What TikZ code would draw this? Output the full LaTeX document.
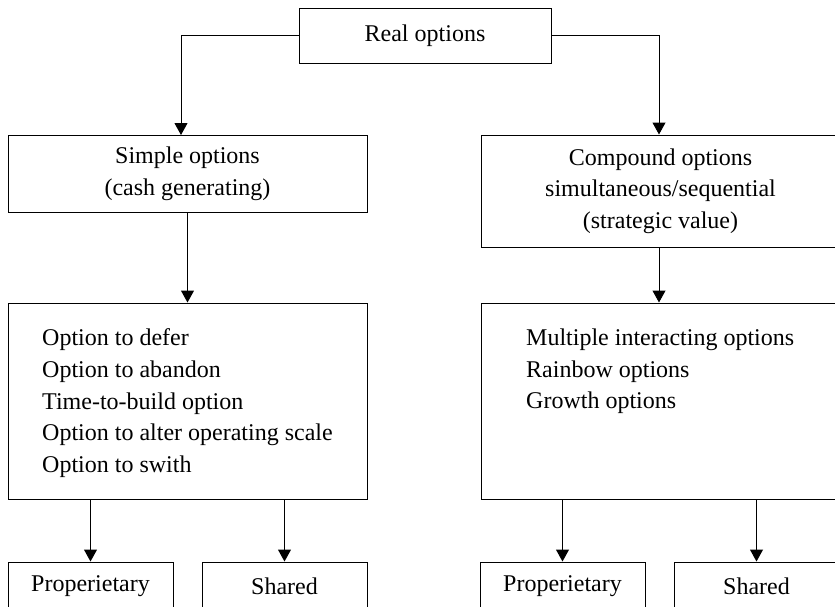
\documentclass[tikz,border=0pt]{standalone}
\usepackage{fontspec}
\setmainfont{Liberation Serif}
\usetikzlibrary{arrows.meta}
\tikzset{
  box/.style={draw, line width=1pt, rectangle, inner sep=0pt, align=center,
    font=\fontsize{24}{31.5}\selectfont},
  listtext/.style={anchor=north west, inner sep=0pt, align=left,
    font=\fontsize{24}{31.7}\selectfont},
  arr/.style={line width=1pt, -{Triangle[length=12pt,width=13pt]}},
}
\begin{document}
\begin{tikzpicture}[x=1pt,y=-1pt]
\useasboundingbox (0,0) rectangle (835,606);
\clip (0,0) rectangle (835,606);
% top
\node[box, minimum width=252pt, minimum height=55pt] (real) at (425,35.5) {Real options};
% level 1
\node[box, minimum width=359pt, minimum height=77pt] (simple) at (187.5,174) {Simple options\\(cash generating)};
\node[box, minimum width=359pt, minimum height=112pt] (comp) at (660.5,191) {Compound options\\simultaneous/sequential\\(strategic value)};
% level 2
\node[box, minimum width=359pt, minimum height=196pt] (slist) at (187.5,401) {};
\node[box, minimum width=359pt, minimum height=196pt] (clist) at (660.5,401) {};
\node[listtext] (slisttext) at (42,328.5) {Option to defer\\Option to abandon\\Time-to-build option\\Option to alter operating scale\\Option to swith};
\node[listtext] (clisttext) at (526,328.5) {Multiple interacting options\\Rainbow options\\Growth options};
% level 3
\node[box, minimum width=165pt, minimum height=48pt] (p1) at (90.5,586) {Properietary};
\node[box, minimum width=165pt, minimum height=48pt] (s1) at (284.5,586) {Shared};
\node[box, minimum width=165pt, minimum height=48pt] (p2) at (562.5,586) {Properietary};
\node[box, minimum width=165pt, minimum height=48pt] (s2) at (756.5,586) {Shared};
% connectors
\draw[arr] (real.west) -| ([xshift=-6.5pt]simple.north);
\draw[arr] (real.east) -| ([xshift=-1.5pt]comp.north);
\draw[arr] (simple.south) -- (slist.north);
\draw[arr] ([xshift=-1.5pt]comp.south) -- ([xshift=-1.5pt]clist.north);
\draw[arr] (slist.south -| p1.north) -- (p1.north);
\draw[arr] (slist.south -| s1.north) -- (s1.north);
\draw[arr] (clist.south -| p2.north) -- (p2.north);
\draw[arr] (clist.south -| s2.north) -- (s2.north);
\end{tikzpicture}
\end{document}
